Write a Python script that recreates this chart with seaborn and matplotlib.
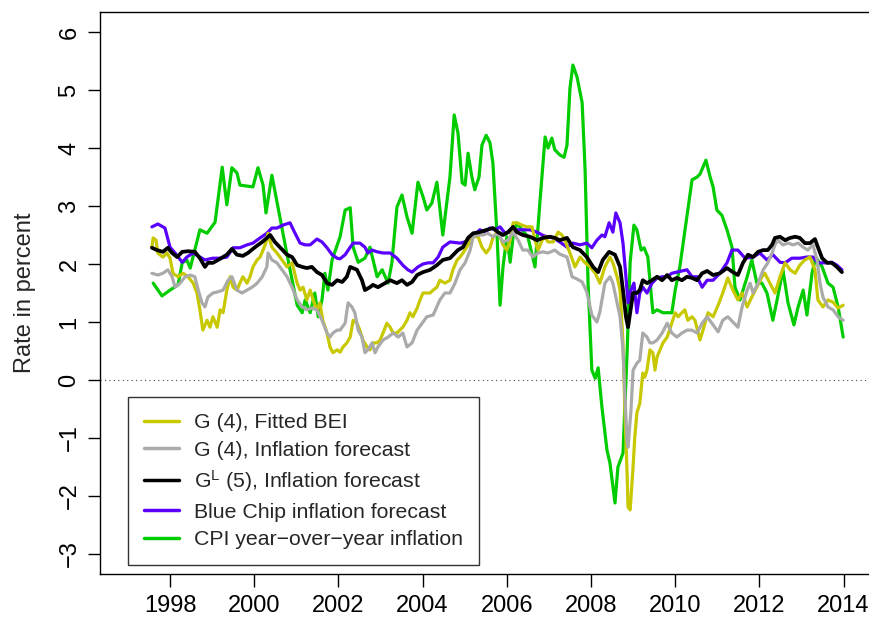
import matplotlib
matplotlib.use("Agg")
import matplotlib.pyplot as plt
import numpy as np
import pandas as pd
import seaborn as sns

# ---------------- data ----------------
bc_year = [1997.57, 1997.71, 1997.88, 1998.00, 1998.12, 1998.29, 1998.40, 1998.55, 1998.71, 1998.83,
           1999.02, 1999.19, 1999.35, 1999.50, 1999.66, 1999.83, 1999.97, 2000.14, 2000.30, 2000.42,
           2000.54, 2000.68, 2000.85, 2000.97, 2001.09, 2001.21, 2001.33, 2001.49, 2001.61, 2001.73,
           2001.85, 2001.97, 2002.04, 2002.16, 2002.28, 2002.35, 2002.51, 2002.63, 2002.70, 2002.80,
           2002.92, 2003.06, 2003.23, 2003.39, 2003.53, 2003.65, 2003.75, 2003.89, 2004.01, 2004.13,
           2004.25, 2004.37, 2004.48, 2004.65, 2004.89, 2005.01, 2005.13, 2005.24, 2005.36, 2005.48,
           2005.60, 2005.72, 2005.84, 2005.96, 2006.08, 2006.24, 2006.43, 2006.55, 2006.72, 2006.84,
           2006.95, 2007.10, 2007.26, 2007.43, 2007.57, 2007.74, 2007.90, 2008.02, 2008.14, 2008.26,
           2008.33, 2008.43, 2008.52, 2008.59, 2008.69, 2008.76, 2008.83, 2008.88, 2008.95, 2009.02,
           2009.09, 2009.16, 2009.23, 2009.33, 2009.45, 2009.57, 2009.69, 2009.81, 2009.92, 2010.04,
           2010.16, 2010.28, 2010.40, 2010.52, 2010.64, 2010.76, 2010.90, 2011.06, 2011.23, 2011.35,
           2011.49, 2011.66, 2011.85, 2012.01, 2012.18, 2012.32, 2012.49, 2012.61, 2012.77, 2012.96,
           2013.13, 2013.27, 2013.39, 2013.56, 2013.72, 2013.84, 2013.96]
bc_val = [2.64, 2.69, 2.62, 2.29, 2.19, 2.03, 2.12, 2.19, 2.12, 2.07,
          2.10, 2.10, 2.12, 2.28, 2.28, 2.33, 2.36, 2.45, 2.53, 2.62,
          2.62, 2.67, 2.71, 2.53, 2.36, 2.33, 2.33, 2.43, 2.38, 2.28,
          2.16, 2.10, 2.09, 2.16, 2.29, 2.36, 2.36, 2.29, 2.19, 2.24,
          2.21, 2.19, 2.19, 2.10, 1.98, 1.90, 1.86, 1.95, 2.00, 2.02,
          2.02, 2.12, 2.29, 2.38, 2.36, 2.38, 2.45, 2.50, 2.59, 2.55,
          2.62, 2.59, 2.64, 2.53, 2.55, 2.59, 2.59, 2.59, 2.55, 2.50,
          2.47, 2.45, 2.38, 2.29, 2.36, 2.33, 2.36, 2.28, 2.41, 2.50,
          2.47, 2.71, 2.55, 2.88, 2.71, 2.36, 1.78, 1.33, 1.55, 1.67,
          1.16, 1.50, 1.60, 1.50, 1.67, 1.76, 1.78, 1.78, 1.84, 1.86,
          1.88, 1.90, 1.78, 1.78, 1.60, 1.72, 1.72, 1.84, 2.02, 2.24,
          2.24, 2.10, 2.12, 2.19, 2.07, 2.16, 2.03, 2.02, 2.10, 2.10,
          2.12, 2.12, 2.02, 2.02, 2.03, 1.98, 1.90]

gl_year = [1997.57, 1997.69, 1997.83, 1997.95, 1998.05, 1998.17, 1998.29, 1998.43, 1998.59, 1998.71,
           1998.83, 1998.90, 1999.02, 1999.19, 1999.35, 1999.47, 1999.59, 1999.73, 1999.85, 2000.02,
           2000.19, 2000.30, 2000.38, 2000.49, 2000.61, 2000.78, 2000.90, 2001.02, 2001.14, 2001.25,
           2001.37, 2001.49, 2001.61, 2001.73, 2001.85, 2001.97, 2002.09, 2002.20, 2002.28, 2002.44,
           2002.56, 2002.63, 2002.75, 2002.82, 2002.94, 2003.11, 2003.23, 2003.39, 2003.51, 2003.63,
           2003.75, 2003.87, 2004.01, 2004.18, 2004.34, 2004.48, 2004.65, 2004.84, 2004.96, 2005.08,
           2005.20, 2005.36, 2005.53, 2005.67, 2005.79, 2005.91, 2006.03, 2006.15, 2006.24, 2006.38,
           2006.55, 2006.72, 2006.86, 2007.03, 2007.14, 2007.26, 2007.43, 2007.57, 2007.74, 2007.90,
           2008.05, 2008.17, 2008.28, 2008.43, 2008.57, 2008.69, 2008.76, 2008.83, 2008.88, 2008.95,
           2009.00, 2009.09, 2009.16, 2009.23, 2009.33, 2009.45, 2009.57, 2009.69, 2009.81, 2009.92,
           2010.04, 2010.16, 2010.28, 2010.40, 2010.52, 2010.64, 2010.76, 2010.90, 2011.06, 2011.23,
           2011.37, 2011.49, 2011.61, 2011.73, 2011.85, 2011.97, 2012.09, 2012.20, 2012.30, 2012.37,
           2012.49, 2012.61, 2012.73, 2012.85, 2012.96, 2013.08, 2013.20, 2013.32, 2013.39, 2013.49,
           2013.61, 2013.72, 2013.84, 2013.96]
gl_val = [2.28, 2.24, 2.21, 2.28, 2.19, 2.12, 2.21, 2.22, 2.21, 2.10,
          1.95, 2.02, 2.02, 2.09, 2.16, 2.26, 2.16, 2.14, 2.19, 2.29,
          2.38, 2.45, 2.50, 2.38, 2.29, 2.16, 2.12, 1.98, 1.95, 1.93,
          1.95, 1.86, 1.81, 1.67, 1.64, 1.72, 1.69, 1.78, 1.95, 1.90,
          1.72, 1.55, 1.60, 1.64, 1.60, 1.67, 1.72, 1.67, 1.72, 1.64,
          1.69, 1.81, 1.86, 1.90, 1.98, 2.07, 2.10, 2.24, 2.29, 2.45,
          2.53, 2.55, 2.59, 2.62, 2.55, 2.50, 2.55, 2.64, 2.55, 2.50,
          2.47, 2.41, 2.45, 2.47, 2.45, 2.41, 2.45, 2.29, 2.24, 2.12,
          1.95, 1.86, 2.07, 2.21, 2.16, 1.95, 1.55, 1.09, 0.91, 1.26,
          1.50, 1.50, 1.55, 1.72, 1.67, 1.72, 1.78, 1.72, 1.81, 1.72,
          1.76, 1.72, 1.78, 1.76, 1.72, 1.84, 1.88, 1.81, 1.84, 1.93,
          1.86, 1.81, 2.02, 2.16, 2.12, 2.21, 2.24, 2.24, 2.33, 2.45,
          2.47, 2.41, 2.45, 2.47, 2.45, 2.36, 2.36, 2.43, 2.29, 2.10,
          2.02, 2.02, 1.95, 1.86]

bei_year = [1997.57, 1997.60, 1997.67, 1997.71, 1997.83, 1997.93, 1998.00, 1998.07, 1998.19, 1998.31,
            1998.43, 1998.55, 1998.64, 1998.71, 1998.78, 1998.88, 1998.95, 1999.02, 1999.12, 1999.19,
            1999.26, 1999.35, 1999.43, 1999.50, 1999.59, 1999.66, 1999.73, 1999.83, 1999.90, 1999.97,
            2000.07, 2000.14, 2000.21, 2000.30, 2000.33, 2000.42, 2000.54, 2000.66, 2000.78, 2000.90,
            2001.02, 2001.09, 2001.16, 2001.25, 2001.33, 2001.40, 2001.49, 2001.56, 2001.63, 2001.73,
            2001.80, 2001.87, 2001.97, 2002.04, 2002.11, 2002.20, 2002.28, 2002.35, 2002.44, 2002.51,
            2002.58, 2002.68, 2002.75, 2002.82, 2002.92, 2002.99, 2003.06, 2003.15, 2003.23, 2003.30,
            2003.39, 2003.46, 2003.53, 2003.63, 2003.70, 2003.77, 2003.87, 2003.94, 2004.01, 2004.10,
            2004.18, 2004.25, 2004.34, 2004.41, 2004.53, 2004.65, 2004.72, 2004.82, 2004.89, 2004.96,
            2005.08, 2005.20, 2005.32, 2005.41, 2005.51, 2005.60, 2005.67, 2005.77, 2005.84, 2005.91,
            2006.00, 2006.08, 2006.15, 2006.24, 2006.36, 2006.48, 2006.60, 2006.67, 2006.74, 2006.84,
            2006.91, 2006.98, 2007.10, 2007.22, 2007.31, 2007.38, 2007.50, 2007.62, 2007.74, 2007.86,
            2007.98, 2008.10, 2008.21, 2008.33, 2008.45, 2008.52, 2008.62, 2008.69, 2008.76, 2008.81,
            2008.86, 2008.88, 2008.93, 2009.00, 2009.04, 2009.09, 2009.16, 2009.23, 2009.28, 2009.33,
            2009.40, 2009.47, 2009.52, 2009.57, 2009.64, 2009.71, 2009.81, 2009.92, 2010.00, 2010.07,
            2010.16, 2010.23, 2010.30, 2010.40, 2010.47, 2010.59, 2010.66, 2010.78, 2010.90, 2011.02,
            2011.13, 2011.25, 2011.37, 2011.49, 2011.59, 2011.71, 2011.82, 2011.94, 2012.06, 2012.13,
            2012.25, 2012.37, 2012.49, 2012.61, 2012.73, 2012.85, 2012.96, 2013.08, 2013.20, 2013.32,
            2013.39, 2013.51, 2013.63, 2013.75, 2013.87, 2013.99]
bei_val = [2.29, 2.45, 2.41, 2.19, 2.12, 2.19, 2.10, 1.84, 1.78, 1.84,
           1.78, 1.67, 1.50, 1.21, 0.86, 1.03, 0.91, 1.09, 0.91, 1.21,
           1.16, 1.55, 1.78, 1.60, 1.55, 1.67, 1.78, 1.67, 1.78, 1.95,
           2.07, 2.12, 2.24, 2.41, 2.53, 2.29, 2.19, 2.07, 1.95, 2.02,
           1.67, 1.55, 1.60, 1.38, 1.55, 1.38, 1.21, 1.33, 1.03, 0.81,
           0.57, 0.47, 0.52, 0.48, 0.57, 0.64, 0.74, 1.03, 0.98, 0.86,
           0.69, 0.57, 0.52, 0.64, 0.64, 0.69, 0.81, 0.98, 0.91, 0.81,
           0.81, 0.86, 0.91, 1.03, 1.16, 1.09, 1.24, 1.38, 1.50, 1.50,
           1.50, 1.55, 1.60, 1.72, 1.67, 1.72, 1.90, 2.07, 2.12, 2.19,
           2.33, 2.47, 2.47, 2.29, 2.19, 2.28, 2.45, 2.55, 2.47, 2.33,
           2.24, 2.41, 2.71, 2.71, 2.67, 2.64, 2.64, 2.41, 2.24, 2.41,
           2.47, 2.38, 2.38, 2.55, 2.50, 2.41, 2.19, 1.95, 2.12, 2.02,
           1.95, 1.84, 1.67, 1.95, 2.12, 2.02, 1.78, 1.55, 0.64, -0.64,
           -1.67, -2.19, -2.24, -1.50, -0.98, -0.57, -0.40, 0.12, 0.05, 0.17,
           0.52, 0.47, 0.17, 0.40, 0.52, 0.64, 0.74, 0.98, 1.16, 1.09,
           1.16, 1.21, 1.03, 1.09, 1.03, 0.69, 0.86, 1.16, 1.09, 1.29,
           1.50, 1.76, 1.55, 1.38, 1.50, 1.26, 1.43, 1.60, 1.78, 1.84,
           1.67, 1.50, 1.78, 2.02, 1.90, 1.84, 1.98, 2.07, 2.12, 1.90,
           1.38, 1.26, 1.38, 1.34, 1.24, 1.29]

g4_year = [1997.57, 1997.71, 1997.83, 1997.95, 1998.05, 1998.12, 1998.24, 1998.36, 1998.48, 1998.59,
           1998.67, 1998.76, 1998.83, 1998.90, 1999.02, 1999.14, 1999.26, 1999.38, 1999.47, 1999.59,
           1999.71, 1999.83, 1999.95, 2000.07, 2000.19, 2000.30, 2000.33, 2000.42, 2000.54, 2000.66,
           2000.78, 2000.90, 2001.02, 2001.14, 2001.25, 2001.37, 2001.49, 2001.61, 2001.73, 2001.80,
           2001.87, 2001.97, 2002.04, 2002.16, 2002.23, 2002.32, 2002.39, 2002.47, 2002.56, 2002.63,
           2002.70, 2002.80, 2002.87, 2002.94, 2003.06, 2003.18, 2003.30, 2003.42, 2003.53, 2003.63,
           2003.75, 2003.87, 2003.99, 2004.10, 2004.25, 2004.41, 2004.53, 2004.65, 2004.77, 2004.89,
           2005.01, 2005.13, 2005.20, 2005.32, 2005.43, 2005.55, 2005.67, 2005.79, 2005.91, 2006.03,
           2006.15, 2006.27, 2006.38, 2006.50, 2006.62, 2006.74, 2006.86, 2006.98, 2007.14, 2007.26,
           2007.43, 2007.55, 2007.67, 2007.79, 2007.90, 2008.02, 2008.14, 2008.21, 2008.33, 2008.45,
           2008.52, 2008.62, 2008.69, 2008.76, 2008.81, 2008.86, 2008.88, 2008.95, 2009.00, 2009.09,
           2009.16, 2009.23, 2009.33, 2009.40, 2009.47, 2009.57, 2009.69, 2009.81, 2009.92, 2010.04,
           2010.16, 2010.28, 2010.40, 2010.52, 2010.64, 2010.76, 2010.90, 2011.02, 2011.13, 2011.25,
           2011.37, 2011.49, 2011.59, 2011.71, 2011.78, 2011.85, 2011.97, 2012.09, 2012.20, 2012.30,
           2012.37, 2012.44, 2012.56, 2012.68, 2012.80, 2012.92, 2013.04, 2013.15, 2013.27, 2013.37,
           2013.44, 2013.51, 2013.63, 2013.75, 2013.87, 2013.99]
g4_val = [1.84, 1.81, 1.84, 1.90, 1.78, 1.60, 1.67, 1.78, 1.81, 1.78,
          1.55, 1.33, 1.26, 1.43, 1.50, 1.52, 1.55, 1.72, 1.78, 1.55,
          1.50, 1.55, 1.60, 1.67, 1.78, 1.95, 2.19, 2.07, 2.02, 1.90,
          1.78, 1.60, 1.38, 1.26, 1.21, 1.24, 1.21, 1.03, 0.81, 0.74,
          0.81, 0.86, 0.86, 0.98, 1.33, 1.26, 1.16, 0.86, 0.74, 0.47,
          0.52, 0.64, 0.47, 0.57, 0.69, 0.74, 0.81, 0.74, 0.81, 0.57,
          0.64, 0.86, 0.98, 1.09, 1.12, 1.38, 1.50, 1.50, 1.67, 1.90,
          2.02, 2.24, 2.47, 2.50, 2.50, 2.53, 2.47, 2.53, 2.38, 2.41,
          2.55, 2.41, 2.24, 2.24, 2.12, 2.19, 2.21, 2.19, 2.24, 2.17,
          2.12, 1.78, 1.74, 1.69, 1.52, 1.12, 1.00, 1.17, 1.67, 1.78,
          1.67, 1.33, 1.09, 0.52, -0.34, -1.09, -1.16, -0.52, 0.17, 0.29,
          0.34, 0.81, 0.74, 0.64, 0.64, 0.69, 0.81, 0.98, 0.81, 0.74,
          0.81, 0.86, 0.86, 0.81, 0.98, 1.09, 0.95, 0.83, 1.03, 1.09,
          1.00, 0.91, 1.26, 1.55, 1.67, 1.50, 1.67, 1.90, 2.02, 2.19,
          2.33, 2.41, 2.33, 2.36, 2.33, 2.36, 2.29, 2.24, 2.33, 2.07,
          1.67, 1.43, 1.26, 1.21, 1.09, 1.03]

cpi_year = [1997.60, 1997.81, 1998.00, 1998.19, 1998.29, 1998.40, 1998.48, 1998.71, 1998.88, 1999.07,
            1999.24, 1999.35, 1999.47, 1999.59, 1999.66, 1999.97, 2000.09, 2000.21, 2000.28, 2000.42,
            2000.61, 2000.78, 2001.02, 2001.14, 2001.21, 2001.33, 2001.44, 2001.52, 2001.61, 2001.68,
            2001.75, 2001.85, 2002.04, 2002.16, 2002.28, 2002.35, 2002.47, 2002.63, 2002.75, 2002.92,
            2003.04, 2003.18, 2003.27, 2003.39, 2003.51, 2003.63, 2003.75, 2003.89, 2004.01, 2004.10,
            2004.22, 2004.34, 2004.48, 2004.65, 2004.75, 2004.84, 2004.94, 2005.01, 2005.08, 2005.17,
            2005.24, 2005.34, 2005.41, 2005.51, 2005.60, 2005.67, 2005.77, 2005.84, 2005.91, 2006.00,
            2006.08, 2006.15, 2006.24, 2006.36, 2006.50, 2006.67, 2006.79, 2006.91, 2006.98, 2007.07,
            2007.14, 2007.26, 2007.36, 2007.43, 2007.50, 2007.57, 2007.67, 2007.79, 2007.86, 2007.93,
            2008.02, 2008.10, 2008.17, 2008.26, 2008.38, 2008.45, 2008.57, 2008.64, 2008.76, 2008.86,
            2008.93, 2009.02, 2009.09, 2009.19, 2009.26, 2009.35, 2009.47, 2009.57, 2009.71, 2009.92,
            2010.00, 2010.11, 2010.30, 2010.40, 2010.52, 2010.59, 2010.73, 2010.83, 2010.90, 2010.99,
            2011.11, 2011.23, 2011.35, 2011.42, 2011.54, 2011.71, 2011.82, 2011.94, 2012.06, 2012.18,
            2012.32, 2012.42, 2012.56, 2012.68, 2012.82, 2012.92, 2013.04, 2013.13, 2013.25, 2013.34,
            2013.49, 2013.63, 2013.75, 2013.87, 2013.99]
cpi_val = [1.67, 1.45, 1.55, 1.64, 2.02, 2.07, 1.93, 2.59, 2.53, 2.72,
           3.67, 3.02, 3.66, 3.57, 3.36, 3.33, 3.66, 3.36, 2.88, 3.53,
           2.81, 2.16, 1.29, 1.16, 1.38, 1.16, 1.50, 1.09, 1.38, 1.84,
           1.55, 2.07, 2.47, 2.93, 2.97, 2.29, 2.03, 2.10, 2.29, 1.78,
           1.90, 1.67, 2.02, 2.98, 3.19, 2.81, 2.53, 3.41, 3.16, 2.93,
           3.05, 3.41, 2.50, 3.50, 4.57, 4.26, 3.40, 3.36, 3.91, 3.50,
           3.28, 3.50, 4.05, 4.22, 4.09, 3.74, 2.47, 1.29, 1.95, 2.47,
           2.03, 2.47, 2.71, 2.59, 2.47, 1.95, 3.10, 4.19, 4.00, 4.17,
           3.97, 3.88, 3.84, 4.05, 5.03, 5.43, 5.22, 4.78, 3.62, 1.67,
           0.17, 0.03, 0.21, -0.47, -1.21, -1.43, -2.12, -1.50, -1.26, 0.52,
           2.03, 2.67, 2.59, 2.24, 2.28, 2.12, 1.16, 1.21, 1.16, 1.16,
           1.55, 1.95, 2.93, 3.45, 3.50, 3.55, 3.79, 3.50, 3.33, 2.93,
           2.84, 2.59, 2.29, 1.60, 1.38, 1.78, 2.07, 1.67, 1.67, 1.50,
           1.03, 1.38, 1.90, 1.33, 0.95, 1.26, 1.55, 1.12, 1.84, 2.12,
           1.95, 1.67, 1.60, 1.26, 0.74]

series_labels = ["G (4), Fitted BEI", "G (4), Inflation forecast",
                 r"G$^{\mathrm{L}}$ (5), Inflation forecast",
                 "Blue Chip inflation forecast", "CPI year\u2212over\u2212year inflation"]
x_ticks = [1998, 2000, 2002, 2004, 2006, 2008, 2010, 2012, 2014]
y_ticks = [-3, -2, -1, 0, 1, 2, 3, 4, 5, 6]

# ---------------- style ----------------
sns.set_theme(style="white")
plt.rcParams["font.family"] = ["Liberation Sans", "DejaVu Sans"]
plt.rcParams["mathtext.fontset"] = "custom"
plt.rcParams["mathtext.rm"] = "Liberation Sans"
plt.rcParams["mathtext.it"] = "Liberation Sans:italic"
plt.rcParams["mathtext.bf"] = "Liberation Sans:bold"
plt.rcParams["axes.unicode_minus"] = True

colors = {"bei": "#C8C800", "g4": "#AAAAAA", "gl": "#000000", "bc": "#5A00FF", "cpi": "#00CC00"}

fig = plt.figure(figsize=(8.7, 6.19), dpi=100)
ax = fig.add_axes([100 / 870, 45 / 619, 772 / 870, 562 / 619])

ax.axhline(0, color="#444444", lw=0.8, ls=(0, (1, 3)), zorder=1)

def draw(xs, ys, key, lw, z):
    df = pd.DataFrame({"year": xs, "value": ys})
    sns.lineplot(data=df, x="year", y="value", ax=ax, color=colors[key], linewidth=lw,
                 estimator=None, sort=False, zorder=z)
    return ax.lines[-1]

h_cpi = draw(cpi_year, cpi_val, "cpi", 2.3, 2)
h_bc = draw(bc_year, bc_val, "bc", 2.3, 3)
h_bei = draw(bei_year, bei_val, "bei", 2.3, 4)
h_g4 = draw(g4_year, g4_val, "g4", 2.3, 5)
h_gl = draw(gl_year, gl_val, "gl", 2.7, 6)

ax.set_xlim(1996.337, 2014.675)
ax.set_ylim(-3.345, 6.345)
ax.set_xticks(x_ticks)
ax.set_xticklabels([str(t) for t in x_ticks])
ax.set_yticks(y_ticks)
ax.set_yticklabels([("\u2212" + str(-t)) if t < 0 else str(t) for t in y_ticks])
ax.set_xlabel("")
ax.set_ylabel("Rate in percent", fontsize=17)
ax.yaxis.set_label_coords(-0.0825, 0.5)

ax.tick_params(axis="both", which="major", direction="out", length=9, width=1,
               color="black", labelsize=17, labelcolor="black", bottom=True, left=True)
ax.tick_params(axis="x", pad=6)
ax.tick_params(axis="y", pad=5)
for lbl in ax.get_yticklabels():
    lbl.set_rotation(90)
    lbl.set_va("center")
    lbl.set_ha("right")

for sp in ax.spines.values():
    sp.set_color("black")
    sp.set_linewidth(1.0)

leg = ax.legend([h_bei, h_g4, h_gl, h_bc, h_cpi], series_labels,
                loc="lower left", bbox_to_anchor=(0.0363, 0.016), borderaxespad=0,
                frameon=True, fancybox=False, edgecolor="#333333", facecolor="white",
                fontsize=15.3, handlelength=1.65, handletextpad=0.7, labelspacing=0.4,
                borderpad=0.75)
leg.get_frame().set_linewidth(1.0)
leg.get_frame().set_alpha(1)
for ln in leg.get_lines():
    ln.set_linewidth(2.5)

fig.savefig("out.png", dpi=100, facecolor="white")
